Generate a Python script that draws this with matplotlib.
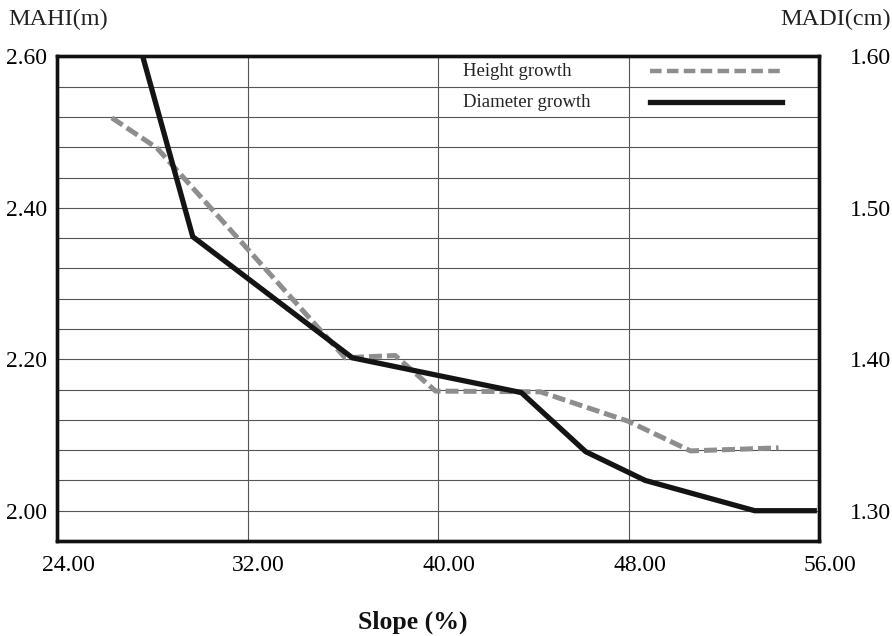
import numpy as np
import matplotlib
matplotlib.use('Agg')
import matplotlib.pyplot as plt
import matplotlib.transforms as mtransforms

# Mean annual height increment (left axis, m) vs slope
height_x = [26.3, 28.2, 36.1, 38.2, 39.9, 44.3, 48.0, 50.6, 54.3]
height_y = [2.519, 2.479, 2.202, 2.205, 2.158, 2.157, 2.118, 2.079, 2.083]

# Mean annual diameter increment (right axis, cm) vs slope
diam_x = [27.6, 29.7, 36.4, 43.5, 46.2, 48.7, 53.3, 55.8]
diam_y = [1.600, 1.481, 1.401, 1.378, 1.339, 1.320, 1.300, 1.300]

x_ticks = [24, 32, 40, 48, 56]
left_ticks = [2.00, 2.20, 2.40, 2.60]
right_ticks = [1.30, 1.40, 1.50, 1.60]

plt.rcParams['font.family'] = ['Liberation Serif', 'DejaVu Serif']

fig = plt.figure(figsize=(8.92, 6.36), dpi=100)
ax = fig.add_axes([0.0639, 0.1494, 0.8543, 0.7618])
ax2 = ax.twinx()

ax.set_xlim(24, 56)
ax.set_ylim(1.96, 2.60)
ax2.set_ylim(1.28, 1.60)

# grid: horizontal every 0.04, vertical at the x ticks
ax.set_yticks(np.arange(1.96, 2.601, 0.04), minor=True)
ax.set_yticks(left_ticks)
ax.set_xticks(x_ticks)
ax.grid(True, which='both', axis='y', color='#555555', linewidth=0.8)
ax.grid(True, which='major', axis='x', color='#555555', linewidth=0.8)
ax.set_axisbelow(True)

ax.set_yticklabels([f'{v:.2f}' for v in left_ticks], fontsize=17)
ax.set_xticklabels([f'{v:.2f}' for v in x_ticks], fontsize=17)
ax2.set_yticks(right_ticks)
ax2.set_yticklabels([f'{v:.2f}' for v in right_ticks], fontsize=17)

ax.tick_params(axis='both', which='both', length=0)
ax.tick_params(axis='y', pad=7)
ax.tick_params(axis='x', pad=10)
ax2.tick_params(axis='y', length=0, pad=22)

offset = mtransforms.ScaledTranslation(11 / 100, 0, fig.dpi_scale_trans)
for lab in ax.get_xticklabels():
    lab.set_transform(lab.get_transform() + offset)

for a in (ax, ax2):
    for s in a.spines.values():
        s.set_linewidth(2.4)
        s.set_color('#111111')

ax.plot(height_x, height_y, color='#8e8e8e', linewidth=3.6,
        dashes=(2.6, 1.0), zorder=3)
ax2.plot(diam_x, diam_y, color='#141414', linewidth=3.8,
         solid_joinstyle='miter', zorder=4)

# legend drawn as text + sample lines over the grid
ax.text(0.533, 0.968, 'Height growth', transform=ax.transAxes,
        fontsize=13.5, va='center', ha='left', color='#222222')
ax.text(0.533, 0.904, 'Diameter growth', transform=ax.transAxes,
        fontsize=13.5, va='center', ha='left', color='#222222')
ax.plot([0.778, 0.951], [0.970, 0.970], transform=ax.transAxes,
        color='#8e8e8e', linewidth=3.2, dashes=(2.6, 1.2), clip_on=False)
ax.plot([0.778, 0.951], [0.906, 0.906], transform=ax.transAxes,
        color='#141414', linewidth=3.8, clip_on=False)

fig.text(8 / 892, 1 - 19 / 636, 'MAHI(m)', fontsize=17.5,
         ha='left', va='center', color='#222222')
fig.text(891 / 892, 1 - 19 / 636, 'MADI(cm)', fontsize=17.5,
         ha='right', va='center', color='#222222')
fig.text(413 / 892, 1 - 622 / 636, 'Slope (%)', fontsize=18.5,
         fontweight='bold', ha='center', va='center', color='#111111')

fig.savefig('out.png', dpi=100)
